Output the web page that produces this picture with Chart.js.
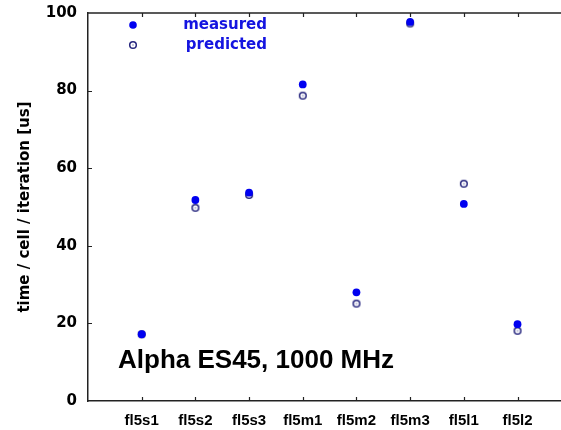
<!DOCTYPE html>
<html>
<head>
<meta charset="utf-8">
<script src="https://cdn.jsdelivr.net/npm/chart.js@4/dist/chart.umd.min.js"></script>
<style>
  html, body { margin: 0; padding: 0; background: #fff; }
  #wrap { width: 561px; height: 430px; }
</style>
</head>
<body>
<div id="wrap"><canvas id="myChart" width="561" height="430"></canvas></div>
<script>
var categories = ["fl5s1", "fl5s2", "fl5s3", "fl5m1", "fl5m2", "fl5m3", "fl5l1", "fl5l2"];
var measured = [17.2, 51.8, 53.7, 81.6, 28.0, 97.7, 50.8, 19.8];
var predicted = [17.2, 49.8, 53.1, 78.7, 25.1, 97.3, 56.0, 18.1];
var yTicks = [0, 20, 40, 60, 80, 100];

var blue = "#0000f0";
var navy = "#26267e";

// open circle with a dot in the middle, as gnuplot draws it
function makeRing() {
  var c = document.createElement("canvas");
  c.width = 10;
  c.height = 10;
  var g = c.getContext("2d");
  g.strokeStyle = navy;
  g.lineWidth = 1.5;
  g.beginPath();
  g.arc(5, 5, 3.3, 0, Math.PI * 2);
  g.stroke();
  g.fillStyle = navy;
  g.fillRect(4.5, 4.5, 1, 1);
  return c;
}
var ring = makeRing();

function toPoints(arr) {
  var pts = [];
  for (var i = 0; i < arr.length; i++) {
    pts.push({ x: i + 1, y: arr[i] });
  }
  return pts;
}

var extras = {
  id: "extras",
  afterDraw: function (chart) {
    var ctx = chart.ctx;
    var a = chart.chartArea;
    var xs = chart.scales.x;
    var ys = chart.scales.y;
    ctx.save();
    ctx.strokeStyle = "#222";
    ctx.lineWidth = 1.5;
    // top border
    ctx.beginPath();
    ctx.moveTo(a.left, a.top);
    ctx.lineTo(a.right, a.top);
    ctx.stroke();
    // ticks
    ctx.lineWidth = 1.2;
    ctx.beginPath();
    for (var i = 0; i < categories.length; i++) {
      var px = Math.round(xs.getPixelForValue(i + 1)) + 0.5;
      ctx.moveTo(px, a.top);
      ctx.lineTo(px, a.top + 4);
      ctx.moveTo(px, a.bottom);
      ctx.lineTo(px, a.bottom - 4);
    }
    for (var j = 1; j < yTicks.length - 1; j++) {
      var py = Math.round(ys.getPixelForValue(yTicks[j])) + 0.5;
      ctx.moveTo(a.left, py);
      ctx.lineTo(a.left + 4, py);
    }
    ctx.stroke();

    // legend
    ctx.fillStyle = blue;
    ctx.beginPath();
    ctx.arc(133, 25, 3.8, 0, Math.PI * 2);
    ctx.fill();
    ctx.drawImage(ring, 128, 40);
    ctx.font = "bold 15px 'DejaVu Sans'";
    ctx.textAlign = "right";
    ctx.textBaseline = "middle";
    ctx.fillStyle = "#1414e0";
    ctx.fillText("measured", 267, 25);
    ctx.fillText("predicted", 267, 45);

    // label inside the plot
    ctx.fillStyle = "#000";
    ctx.textAlign = "left";
    ctx.font = "bold 26px 'Liberation Sans'";
    ctx.fillText("Alpha ES45, 1000 MHz", 118, 361);
    ctx.restore();
  }
};

var ctx = document.getElementById("myChart");

var chart = new Chart(ctx, {
  type: "scatter",
  data: {
    datasets: [
      {
        label: "measured",
        data: toPoints(measured),
        backgroundColor: blue,
        borderColor: blue,
        borderWidth: 0,
        pointRadius: 3.9,
        pointHoverRadius: 3.9
      },
      {
        label: "predicted",
        data: toPoints(predicted),
        pointStyle: ring,
        pointRadius: 5,
        pointHoverRadius: 5
      }
    ]
  },
  options: {
    responsive: false,
    animation: false,
    events: [],
    layout: { autoPadding: false, padding: { top: 13, right: 0, bottom: 0, left: 0 } },
    plugins: {
      legend: { display: false },
      tooltip: { enabled: false }
    },
    scales: {
      x: {
        type: "linear",
        min: 0,
        max: 8.81,
        grid: { display: false, drawTicks: false },
        border: { display: true, color: "#222", width: 1.5 },
        afterBuildTicks: function (scale) {
          scale.ticks = categories.map(function (c, i) { return { value: i + 1 }; });
        },
        afterFit: function (scale) {
          scale.height = 29;
          scale.paddingLeft = 0;
          scale.paddingRight = 0;
        },
        ticks: {
          autoSkip: false,
          maxRotation: 0,
          padding: 11,
          color: "#000",
          font: { family: "'Liberation Sans'", size: 15, weight: "bold" },
          callback: function (v) { return categories[v - 1]; }
        }
      },
      y: {
        min: 0,
        max: 100,
        grid: { display: false, drawTicks: false },
        border: { display: true, color: "#222", width: 1.5 },
        afterBuildTicks: function (scale) {
          scale.ticks = yTicks.map(function (v) { return { value: v }; });
        },
        afterFit: function (scale) {
          scale.width = 88;
          scale.paddingTop = 0;
          scale.paddingBottom = 0;
        },
        ticks: {
          padding: 11,
          color: "#000",
          font: { family: "'DejaVu Sans'", size: 15, weight: "bold" }
        },
        title: {
          display: true,
          text: "time / cell / iteration [us]",
          color: "#000",
          padding: { top: 16, bottom: 0 },
          font: { family: "'DejaVu Sans'", size: 15, weight: "bold", lineHeight: 1.2 }
        }
      }
    }
  },
  plugins: [extras]
});
</script>
</body>
</html>
